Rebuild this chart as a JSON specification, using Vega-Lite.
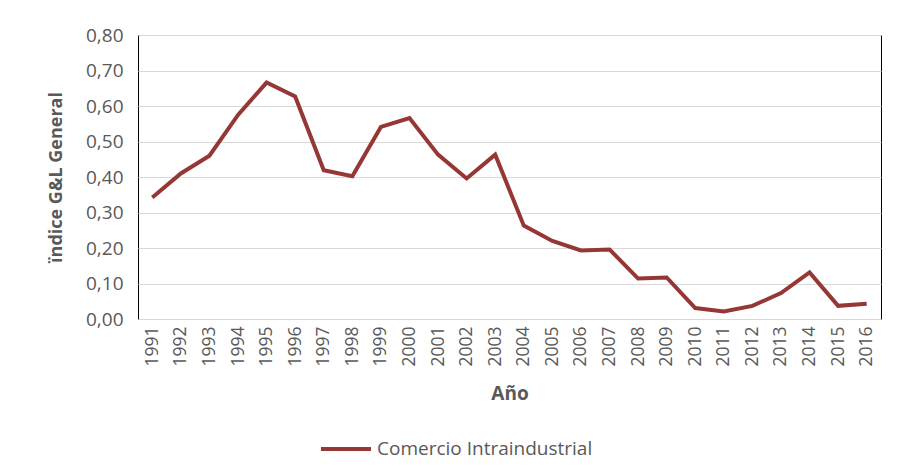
{
  "$schema": "https://vega.github.io/schema/vega-lite/v6.json",
  "width": 743,
  "height": 284,
  "autosize": {"type": "none"},
  "padding": {"left": 138, "top": 35, "right": 18, "bottom": 156},
  "background": "white",
  "config": {
    "view": {"stroke": "#000000", "strokeWidth": 1},
    "font": "Open Sans"
  },
  "data": {
    "values": [
      {"year": "1991", "value": 0.342, "serie": "Comercio Intraindustrial"},
      {"year": "1992", "value": 0.410, "serie": "Comercio Intraindustrial"},
      {"year": "1993", "value": 0.460, "serie": "Comercio Intraindustrial"},
      {"year": "1994", "value": 0.575, "serie": "Comercio Intraindustrial"},
      {"year": "1995", "value": 0.666, "serie": "Comercio Intraindustrial"},
      {"year": "1996", "value": 0.627, "serie": "Comercio Intraindustrial"},
      {"year": "1997", "value": 0.419, "serie": "Comercio Intraindustrial"},
      {"year": "1998", "value": 0.402, "serie": "Comercio Intraindustrial"},
      {"year": "1999", "value": 0.541, "serie": "Comercio Intraindustrial"},
      {"year": "2000", "value": 0.566, "serie": "Comercio Intraindustrial"},
      {"year": "2001", "value": 0.463, "serie": "Comercio Intraindustrial"},
      {"year": "2002", "value": 0.396, "serie": "Comercio Intraindustrial"},
      {"year": "2003", "value": 0.463, "serie": "Comercio Intraindustrial"},
      {"year": "2004", "value": 0.263, "serie": "Comercio Intraindustrial"},
      {"year": "2005", "value": 0.220, "serie": "Comercio Intraindustrial"},
      {"year": "2006", "value": 0.193, "serie": "Comercio Intraindustrial"},
      {"year": "2007", "value": 0.196, "serie": "Comercio Intraindustrial"},
      {"year": "2008", "value": 0.114, "serie": "Comercio Intraindustrial"},
      {"year": "2009", "value": 0.117, "serie": "Comercio Intraindustrial"},
      {"year": "2010", "value": 0.031, "serie": "Comercio Intraindustrial"},
      {"year": "2011", "value": 0.021, "serie": "Comercio Intraindustrial"},
      {"year": "2012", "value": 0.037, "serie": "Comercio Intraindustrial"},
      {"year": "2013", "value": 0.073, "serie": "Comercio Intraindustrial"},
      {"year": "2014", "value": 0.131, "serie": "Comercio Intraindustrial"},
      {"year": "2015", "value": 0.037, "serie": "Comercio Intraindustrial"},
      {"year": "2016", "value": 0.043, "serie": "Comercio Intraindustrial"}
    ]
  },
  "mark": {"type": "line", "strokeWidth": 4, "strokeJoin": "miter"},
  "encoding": {
    "x": {
      "field": "year",
      "type": "ordinal",
      "scale": {"type": "point", "padding": 0.5},
      "axis": {
        "title": "Año",
        "titleFont": "Open Sans",
        "titleFontSize": 19,
        "titleFontWeight": "bold",
        "titleColor": "#595959",
        "titlePadding": 18,
        "labelAngle": -90,
        "labelFont": "Open Sans",
        "labelFontSize": 17.5,
        "labelColor": "#595959",
        "labelPadding": 7,
        "ticks": false,
        "domain": false,
        "grid": false
      }
    },
    "y": {
      "field": "value",
      "type": "quantitative",
      "scale": {"domain": [0, 0.8], "nice": false},
      "axis": {
        "title": "ïndice G&L General",
        "titleFont": "Open Sans",
        "titleFontSize": 18,
        "titleFontWeight": "bold",
        "titleColor": "#595959",
        "titlePadding": 20,
        "values": [0, 0.1, 0.2, 0.3, 0.4, 0.5, 0.6, 0.7, 0.8],
        "labelExpr": "replace(format(datum.value, '.2f'), '.', ',')",
        "labelFont": "Open Sans",
        "labelFontSize": 19,
        "labelColor": "#595959",
        "labelPadding": 15,
        "ticks": false,
        "domain": false,
        "gridColor": "#d9d9d9",
        "gridWidth": 1
      }
    },
    "color": {
      "field": "serie",
      "type": "nominal",
      "scale": {"range": ["#953735"]},
      "legend": {
        "orient": "none",
        "legendX": 181,
        "legendY": 387,
        "title": null,
        "symbolType": "stroke",
        "symbolStrokeWidth": 4,
        "symbolSize": 2500,
        "labelFont": "Open Sans",
        "labelFontSize": 19,
        "labelColor": "#595959",
        "labelLimit": 400,
        "labelOffset": 4
      }
    }
  }
}
